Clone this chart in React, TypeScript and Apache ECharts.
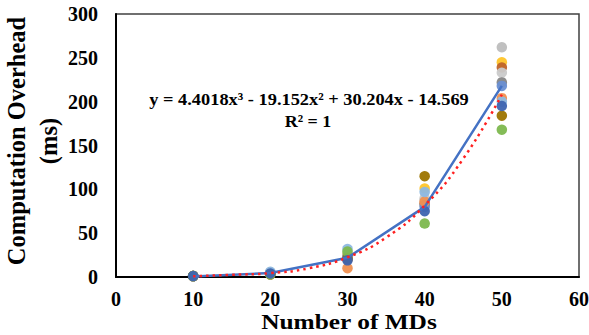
import React, { useEffect, useRef } from "react";
import * as echarts from "echarts";

const xValues = [10, 20, 30, 40, 50];
const xTicks = [0, 10, 20, 30, 40, 50, 60];
const yTicks = [0, 50, 100, 150, 200, 250, 300];

const seriesNames = [
  "S1", "S2", "S3", "S4", "S5", "S6", "S7", "S8", "S9", "S10", "S11",
];
const seriesColors = [
  "#BDBDBD", "#FFC52A", "#C0642A", "#CACACA", "#858585", "#6A8FD2",
  "#F09050", "#8DB8E2", "#9C7400", "#7DB84E", "#3E64B0",
];
const seriesValues = [
  [1, 5, 26, 88, 262],
  [1, 5, 25, 101, 245],
  [1, 4, 20, 84, 239],
  [1, 5, 24, 90, 233],
  [1, 4, 23, 82, 222],
  [1, 4, 22, 80, 218],
  [1, 3, 10, 86, 204],
  [1, 6, 32, 97, 200],
  [1, 3, 21, 115, 184],
  [1, 3, 29, 61, 168],
  [1, 4, 19, 75, 195],
];

const meanValues = [0.5, 4.5, 22, 80, 218];

const trendX = [10, 15, 20, 25, 30, 35, 40, 45, 50];
const trendValues = [0.9, 2.5, 4.4, 10, 22.5, 45, 81.5, 135, 208];

const xTitle = "Number of MDs";
const yTitle = "Computation Overhead\n(ms)";
const equationText = "y = 4.4018x³ - 19.152x² + 30.204x - 14.569";
const r2Text = "R² = 1";

export default function App() {
  const ref = useRef<HTMLDivElement>(null);
  useEffect(() => {
    if (!ref.current) return;
    const chart = echarts.init(ref.current, undefined, { renderer: "svg" });
    const font = "'Liberation Serif', 'Times New Roman', serif";
    const scatter = seriesValues.map((vals, i) => ({
      name: seriesNames[i],
      type: "scatter",
      data: vals.map((v, j) => [xValues[j], v]),
      symbolSize: 10.5,
      itemStyle: { color: seriesColors[i], opacity: 0.95 },
      z: 2,
    }));
    chart.setOption({
      animation: false,
      grid: {
        left: 116,
        top: 14,
        right: 10,
        bottom: 58,
        outerBoundsMode: "none",
        containLabel: false,
        show: true,
        borderColor: "#404040",
        borderWidth: 1.5,
      },
      xAxis: {
        type: "value",
        min: 0,
        max: 60,
        interval: 10,
        axisLine: { onZero: false, lineStyle: { color: "#000", width: 2 } },
        axisTick: { show: false },
        splitLine: { show: false },
        axisLabel: {
          color: "#000",
          fontFamily: font,
          fontWeight: "bold",
          fontSize: 20,
          margin: 12,
          formatter: (v: number) => (xTicks.includes(v) ? String(v) : ""),
        },
      },
      yAxis: {
        type: "value",
        min: 0,
        max: 300,
        interval: 50,
        axisLine: { show: true, lineStyle: { color: "#000", width: 2 } },
        axisTick: { show: false },
        splitLine: { show: false },
        axisLabel: {
          color: "#000",
          fontFamily: font,
          fontWeight: "bold",
          fontSize: 20,
          margin: 18,
          formatter: (v: number) => (yTicks.includes(v) ? String(v) : ""),
        },
      },
      graphic: [
        {
          type: "text",
          x: 32,
          y: 141,
          rotation: Math.PI / 2,
          style: {
            text: yTitle,
            align: "center",
            verticalAlign: "middle",
            fill: "#000",
            font: `bold 24.5px ${font}`,
            lineHeight: 32,
          },
        },
        {
          type: "text",
          x: 349,
          y: 322,
          scaleX: 1.18,
          style: {
            text: xTitle,
            align: "center",
            verticalAlign: "middle",
            fill: "#000",
            font: `bold 21.5px ${font}`,
          },
        },
        {
          type: "text",
          x: 309,
          y: 99,
          scaleX: 1.08,
          style: {
            text: equationText,
            align: "center",
            verticalAlign: "middle",
            fill: "#000",
            font: `bold 17px ${font}`,
          },
          z: 10,
        },
        {
          type: "text",
          x: 308,
          y: 121,
          scaleX: 1.06,
          style: {
            text: r2Text,
            align: "center",
            verticalAlign: "middle",
            fill: "#000",
            font: `bold 17px ${font}`,
          },
          z: 10,
        },
      ],
      series: [
        ...scatter,
        {
          name: "Mean",
          type: "line",
          data: meanValues.map((v, j) => [xValues[j], v]),
          showSymbol: false,
          lineStyle: { color: "#4472C4", width: 2.5 },
          itemStyle: { color: "#4472C4" },
          z: 3,
        },
        {
          name: "Trend",
          type: "line",
          data: trendValues.map((v, j) => [trendX[j], v]),
          smooth: true,
          showSymbol: false,
          lineStyle: { color: "#FF2020", width: 2.5, type: [2.5, 4] },
          z: 4,
        },
      ],
    });
    return () => chart.dispose();
  }, []);
  return <div ref={ref} style={{ width: 589, height: 335, position: "absolute", left: 0, top: 0 }} />;
}
